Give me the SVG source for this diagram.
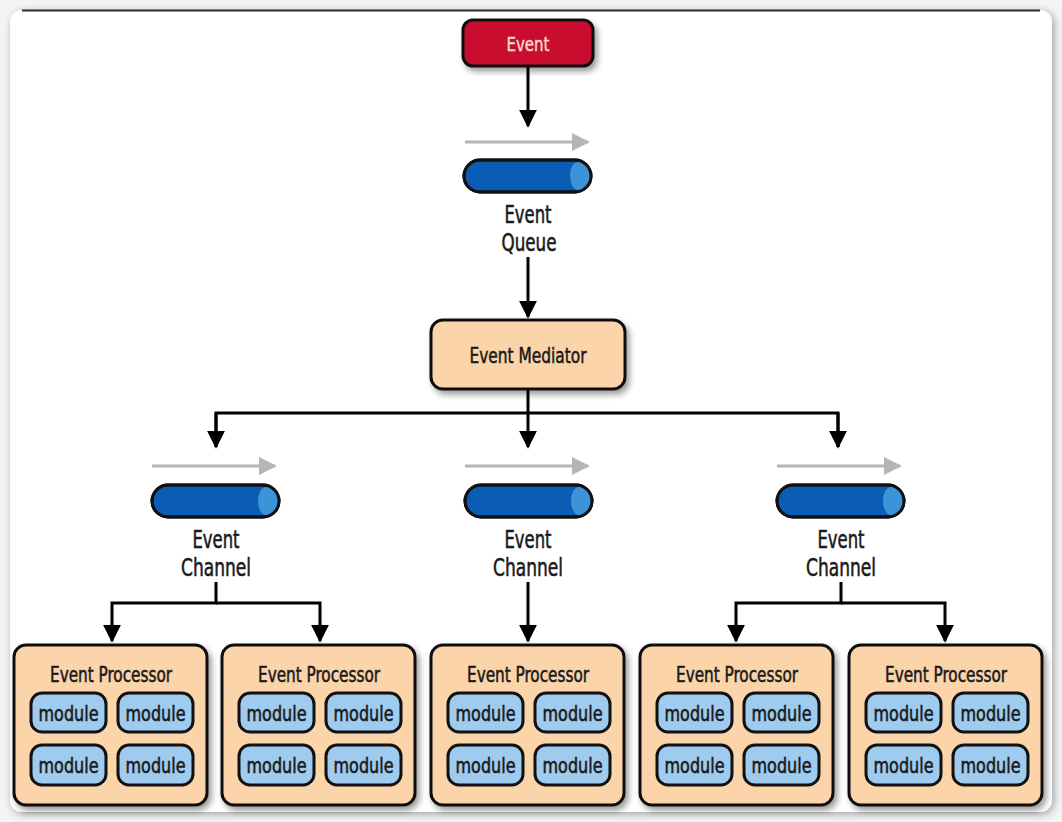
<svg xmlns="http://www.w3.org/2000/svg" width="1062" height="822" viewBox="0 0 1062 822">
<defs>
<filter id="cardShadow" x="-5%" y="-5%" width="110%" height="110%">
<feGaussianBlur in="SourceAlpha" stdDeviation="4"/>
<feOffset dx="2" dy="2"/>
<feComponentTransfer><feFuncA type="linear" slope="0.35"/></feComponentTransfer>
<feMerge><feMergeNode/><feMergeNode in="SourceGraphic"/></feMerge>
</filter>
<filter id="shadow" x="-10%" y="-10%" width="125%" height="130%">
<feGaussianBlur in="SourceAlpha" stdDeviation="3"/>
<feOffset dx="3" dy="4"/>
<feComponentTransfer><feFuncA type="linear" slope="0.4"/></feComponentTransfer>
<feMerge><feMergeNode/><feMergeNode in="SourceGraphic"/></feMerge>
</filter>
<marker id="blk" viewBox="0 0 10 10" refX="9" refY="5" markerWidth="6" markerHeight="6" orient="auto" markerUnits="strokeWidth">
<path d="M0,0 L10,5 L0,10 z" fill="#000"/>
</marker>
<marker id="gry" viewBox="0 0 10 10" refX="9" refY="5" markerWidth="6" markerHeight="6" orient="auto" markerUnits="strokeWidth">
<path d="M0,0 L10,5 L0,10 z" fill="#b5b5b5"/>
</marker>
<g id="pipe">
<rect x="0" y="0" width="127" height="32" rx="16" fill="#0a5cb5" stroke="#111" stroke-width="3"/>
<path d="M114,2 A8,14 0 0 0 114,30 A14,14 0 0 0 114,2 z" fill="#3d93d8"/>
<rect x="0" y="0" width="127" height="32" rx="16" fill="none" stroke="#111" stroke-width="3"/>
</g>
<g id="mods">
<rect x="17" y="48" width="75" height="39" rx="11" class="mod"/>
<rect x="104" y="48" width="75" height="39" rx="11" class="mod"/>
<rect x="17" y="100" width="75" height="40" rx="11" class="mod"/>
<rect x="104" y="100" width="75" height="40" rx="11" class="mod"/>
<text x="54.5" y="76" class="mt" textLength="60" lengthAdjust="spacingAndGlyphs">module</text>
<text x="141.5" y="76" class="mt" textLength="60" lengthAdjust="spacingAndGlyphs">module</text>
<text x="54.5" y="128" class="mt" textLength="60" lengthAdjust="spacingAndGlyphs">module</text>
<text x="141.5" y="128" class="mt" textLength="60" lengthAdjust="spacingAndGlyphs">module</text>
</g>
</defs>
<style>
text{font-family:"DejaVu Sans Condensed","Liberation Sans Narrow","Liberation Sans",sans-serif;font-stretch:condensed;text-anchor:middle;fill:#1a1a1a;stroke:#1a1a1a;stroke-width:0.55px}
.lbl{font-size:24px}
.box{font-size:22px}
.mt{font-size:21px}
.mod{fill:#9fcbee;stroke:#111;stroke-width:3}
.proc{fill:#fcd4aa;stroke:#111;stroke-width:3}
.con{fill:none;stroke:#000;stroke-width:3}
.gray{fill:none;stroke:#b5b5b5;stroke-width:3}
</style>
<rect x="0" y="0" width="1062" height="822" fill="#f4f4f4"/>
<rect x="10" y="10" width="1042" height="802" rx="12" fill="#fff" filter="url(#cardShadow)"/>
<path d="M22,10.5 H1040" stroke="#23303a" stroke-width="2"/>

<g id="connectors">
<path class="con" d="M528,66 V126" marker-end="url(#blk)"/>
<path class="con" d="M528,257 V317" marker-end="url(#blk)"/>
<path class="con" d="M528,390 V447" marker-end="url(#blk)"/>
<path class="con" d="M216,447 V413 H838 V447" />
<path class="con" d="M216,413 V447" marker-end="url(#blk)"/>
<path class="con" d="M838,413 V447" marker-end="url(#blk)"/>
<path class="con" d="M216,582 V603 H112 V641" marker-end="url(#blk)"/>
<path class="con" d="M216,603 H320 V641" marker-end="url(#blk)"/>
<path class="con" d="M528,582 V641" marker-end="url(#blk)"/>
<path class="con" d="M841,582 V603 H736 V641" marker-end="url(#blk)"/>
<path class="con" d="M841,603 H945 V641" marker-end="url(#blk)"/>
<path class="gray" d="M465,142 H588" marker-end="url(#gry)"/>
<path class="gray" d="M152,466 H275" marker-end="url(#gry)"/>
<path class="gray" d="M465,466 H588" marker-end="url(#gry)"/>
<path class="gray" d="M777,466 H900" marker-end="url(#gry)"/>
</g>

<g id="event">
<rect x="463" y="20" width="130" height="46" rx="10" fill="#c8102e" stroke="#111" stroke-width="3" filter="url(#shadow)"/>
<text x="528" y="51" style="font-size:20px;fill:#fbd9cf;stroke:#fbd9cf;stroke-width:0.4px" textLength="43" lengthAdjust="spacingAndGlyphs">Event</text>
</g>

<g id="event-queue">
<use href="#pipe" x="464" y="160"/>
<text x="528" y="223" class="lbl" textLength="47" lengthAdjust="spacingAndGlyphs">Event</text>
<text x="529" y="251" class="lbl" textLength="55" lengthAdjust="spacingAndGlyphs">Queue</text>
</g>

<g id="event-mediator">
<rect x="431" y="320" width="194" height="69" rx="12" class="proc" filter="url(#shadow)"/>
<text x="528" y="363" class="box" textLength="117" lengthAdjust="spacingAndGlyphs">Event Mediator</text>
</g>

<g id="channel-1">
<use href="#pipe" x="152" y="485"/>
<text x="216" y="548" class="lbl" textLength="47" lengthAdjust="spacingAndGlyphs">Event</text>
<text x="216" y="576" class="lbl" textLength="70" lengthAdjust="spacingAndGlyphs">Channel</text>
</g>
<g id="channel-2">
<use href="#pipe" x="465" y="485"/>
<text x="528" y="548" class="lbl" textLength="47" lengthAdjust="spacingAndGlyphs">Event</text>
<text x="528" y="576" class="lbl" textLength="70" lengthAdjust="spacingAndGlyphs">Channel</text>
</g>
<g id="channel-3">
<use href="#pipe" x="777" y="485"/>
<text x="841" y="548" class="lbl" textLength="47" lengthAdjust="spacingAndGlyphs">Event</text>
<text x="841" y="576" class="lbl" textLength="70" lengthAdjust="spacingAndGlyphs">Channel</text>
</g>

<g id="processor-1" transform="translate(14,645)">
<rect x="0" y="0" width="193" height="160" rx="12" class="proc" filter="url(#shadow)"/>
<text x="97" y="37" class="box" textLength="122" lengthAdjust="spacingAndGlyphs">Event Processor</text>
<use href="#mods"/>
</g>
<g id="processor-2" transform="translate(222,645)">
<rect x="0" y="0" width="193" height="160" rx="12" class="proc" filter="url(#shadow)"/>
<text x="97" y="37" class="box" textLength="122" lengthAdjust="spacingAndGlyphs">Event Processor</text>
<use href="#mods"/>
</g>
<g id="processor-3" transform="translate(431,645)">
<rect x="0" y="0" width="193" height="160" rx="12" class="proc" filter="url(#shadow)"/>
<text x="97" y="37" class="box" textLength="122" lengthAdjust="spacingAndGlyphs">Event Processor</text>
<use href="#mods"/>
</g>
<g id="processor-4" transform="translate(640,645)">
<rect x="0" y="0" width="193" height="160" rx="12" class="proc" filter="url(#shadow)"/>
<text x="97" y="37" class="box" textLength="122" lengthAdjust="spacingAndGlyphs">Event Processor</text>
<use href="#mods"/>
</g>
<g id="processor-5" transform="translate(849,645)">
<rect x="0" y="0" width="193" height="160" rx="12" class="proc" filter="url(#shadow)"/>
<text x="97" y="37" class="box" textLength="122" lengthAdjust="spacingAndGlyphs">Event Processor</text>
<use href="#mods"/>
</g>
</svg>
